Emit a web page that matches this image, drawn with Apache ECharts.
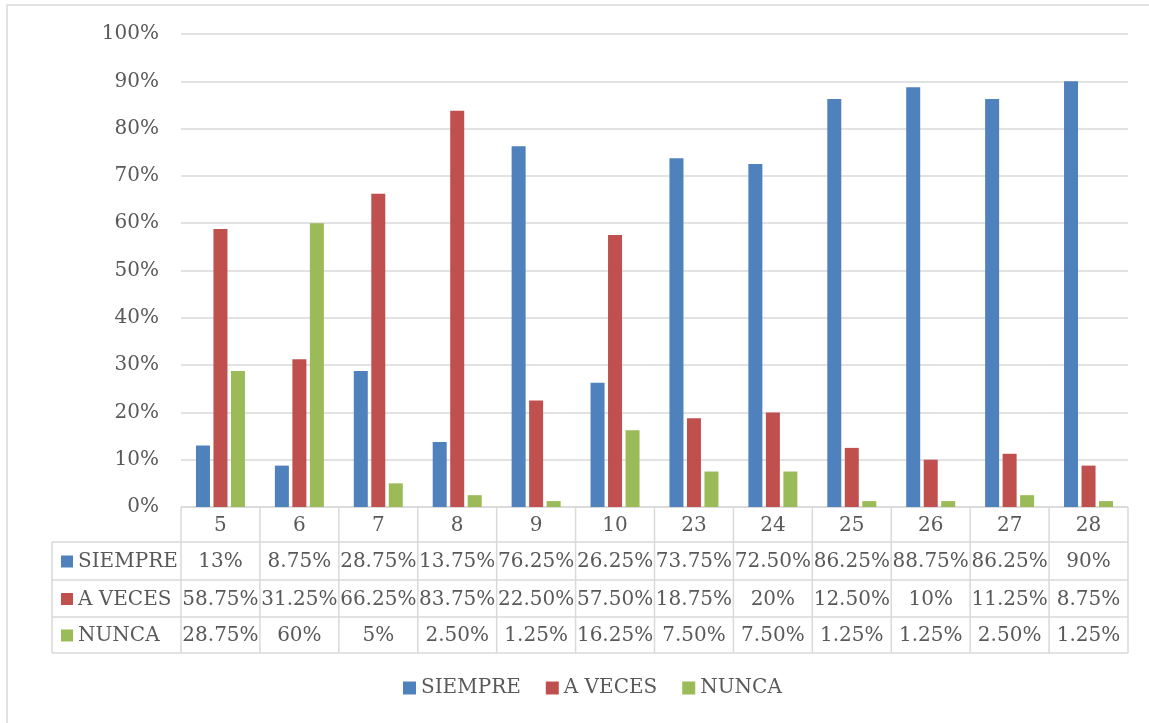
<!DOCTYPE html>
<html>
<head>
<meta charset="utf-8">
<script src="https://cdn.jsdelivr.net/npm/echarts@6/dist/echarts.min.js"></script>
<style>
  html, body { margin: 0; padding: 0; background: #fff; }
  #main { width: 1149px; height: 723px; }
</style>
</head>
<body>
<div id="main"></div>
<script>
// Item numbers along the x axis
const categories = ['5', '6', '7', '8', '9', '10', '23', '24', '25', '26', '27', '28'];
// Percent of answers per item
const siempre = [13, 8.75, 28.75, 13.75, 76.25, 26.25, 73.75, 72.5, 86.25, 88.75, 86.25, 90];
const aVeces  = [58.75, 31.25, 66.25, 83.75, 22.5, 57.5, 18.75, 20, 12.5, 10, 11.25, 8.75];
const nunca   = [28.75, 60, 5, 2.5, 1.25, 16.25, 7.5, 7.5, 1.25, 1.25, 2.5, 1.25];
const seriesNames = ['SIEMPRE', 'A VECES', 'NUNCA'];
const yTicks = [0, 10, 20, 30, 40, 50, 60, 70, 80, 90, 100];

const colors = ['#4F81BD', '#C0504D', '#9BBB59'];
const FONT = '"DejaVu Serif", "Liberation Serif", serif';
const TEXT = '#595959';
const LINE = '#d9d9d9';

const fmt = v => (Number.isInteger(v) ? v : v.toFixed(2)) + '%';

const chart = echarts.init(document.getElementById('main'));

const option = {
  animation: false,
  color: colors,
  textStyle: { fontFamily: FONT, color: TEXT },
  grid: { left: 181, right: 21, top: 34, bottom: 216, containLabel: false },
  legend: {
    bottom: 20,
    left: 398,
    icon: 'rect',
    itemWidth: 13,
    itemHeight: 13,
    itemGap: 25,
    textStyle: { fontFamily: FONT, fontSize: 20, color: TEXT },
    data: seriesNames
  },
  xAxis: {
    type: 'category',
    data: categories,
    axisLine: { show: false },
    axisTick: { show: false },
    axisLabel: { show: false }
  },
  yAxis: {
    type: 'value',
    min: yTicks[0],
    max: yTicks[yTicks.length - 1],
    interval: 10,
    axisLine: { show: false },
    axisTick: { show: false },
    axisLabel: { formatter: '{value}%', fontFamily: FONT, fontSize: 20, color: TEXT, margin: 22 },
    splitLine: { lineStyle: { color: LINE, width: 1.5 } }
  },
  series: [siempre, aVeces, nunca].map((d, i) => ({
    name: seriesNames[i],
    type: 'bar',
    data: d,
    barWidth: 14,
    barGap: '25%'
  }))
};
chart.setOption(option);

// Data table under the plot, laid out on the category axis positions
function buildTable() {
  const c0 = chart.convertToPixel({ xAxisIndex: 0 }, categories[0]);
  const c1 = chart.convertToPixel({ xAxisIndex: 0 }, categories[1]);
  const band = c1 - c0;
  const left = c0 - band / 2;
  const right = left + band * categories.length;
  const top = chart.convertToPixel({ yAxisIndex: 0 }, 0);
  const labelLeft = 52;
  const rowY = [top, top + 35, top + 73, top + 110, top + 146];
  const rows = [siempre, aVeces, nunca];
  const els = [];
  const line = (x1, y1, x2, y2) => els.push({
    type: 'line', silent: true,
    shape: { x1, y1, x2, y2 },
    style: { stroke: LINE, lineWidth: 1.5 }
  });
  const text = (x, y, t, align) => els.push({
    type: 'text', silent: true, x, y,
    style: {
      text: t, fill: TEXT, font: '20px ' + FONT,
      align: align, textAlign: align,
      verticalAlign: 'middle', textVerticalAlign: 'middle'
    }
  });
  // horizontal rules
  line(left, rowY[0], right, rowY[0]);
  for (let r = 1; r < rowY.length; r++) line(labelLeft, rowY[r], right, rowY[r]);
  // vertical rules
  for (let c = 0; c <= categories.length; c++) {
    const x = left + band * c;
    line(x, rowY[0], x, rowY[4]);
  }
  line(labelLeft, rowY[1], labelLeft, rowY[4]);
  // header row
  categories.forEach((cat, c) => text(left + band * (c + 0.5), (rowY[0] + rowY[1]) / 2 + 1, cat, 'center'));
  // series rows
  rows.forEach((vals, r) => {
    const yMid = (rowY[r + 1] + rowY[r + 2]) / 2 + 1;
    els.push({
      type: 'rect', silent: true,
      shape: { x: labelLeft + 9, y: yMid - 6.5, width: 12, height: 12 },
      style: { fill: colors[r] }
    });
    text(labelLeft + 26, yMid, seriesNames[r], 'left');
    vals.forEach((v, c) => text(left + band * (c + 0.5), yMid, fmt(v), 'center'));
  });
  // chart frame (top and left edges inside the view)
  els.push({
    type: 'rect', silent: true,
    shape: { x: 7, y: 5, width: 1200, height: 800 },
    style: { fill: 'none', stroke: LINE, lineWidth: 1.5 }
  });
  chart.setOption({ graphic: { elements: els } });
}
buildTable();
</script>
</body>
</html>
